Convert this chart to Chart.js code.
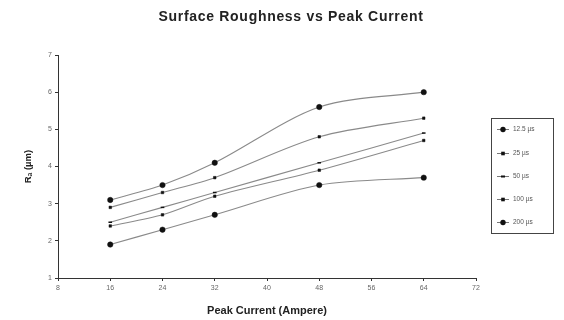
<!DOCTYPE html>
<html><head><meta charset="utf-8">
<script src="https://cdn.jsdelivr.net/npm/chart.js@4/dist/chart.umd.min.js"></script>
<style>html,body{margin:0;padding:0;background:#fff}#wrap{width:564px;height:320px;position:relative}</style>
</head><body><div id="wrap"><canvas id="c" width="564" height="320"></canvas></div>
<script>
const peakCurrent = [16, 24, 32, 48, 64];
const seriesLabels = ["12.5 µs", "25 µs", "50 µs", "100 µs", "200 µs"];
const ra_12_5 = [1.9, 2.3, 2.7, 3.5, 3.7];
const ra_25 = [2.4, 2.7, 3.2, 3.9, 4.7];
const ra_50 = [2.5, 2.9, 3.3, 4.1, 4.9];
const ra_100 = [2.9, 3.3, 3.7, 4.8, 5.3];
const ra_200 = [3.1, 3.5, 4.1, 5.6, 6.0];
const xTicks = [8, 16, 24, 32, 40, 48, 56, 64, 72];
const yTicks = [1, 2, 3, 4, 5, 6, 7];

const FONT = "'Liberation Sans', Arial, sans-serif";
const seriesValues = [ra_12_5, ra_25, ra_50, ra_100, ra_200];
const radii = [2.7, 1.8, 1.8, 1.8, 2.7];
const styles = ['circle', 'rect', 'line', 'rect', 'circle'];

const datasets = seriesValues.map((vals, i) => ({
  label: seriesLabels[i],
  data: peakCurrent.map((x, j) => ({x: x, y: vals[j]})),
  borderColor: '#8a8a8a',
  borderWidth: 1.1,
  backgroundColor: '#111',
  pointBorderColor: '#111',
  pointBackgroundColor: '#111',
  pointRadius: radii[i],
  pointStyle: styles[i],
  pointBorderWidth: styles[i] === 'line' ? 1.5 : 0.5,
  tension: 0.3,
  fill: false
}));

const overlay = {
  id: 'overlay',
  afterDraw(chart) {
    const ctx = chart.ctx;
    ctx.save();
    // title
    ctx.fillStyle = '#222';
    ctx.font = 'bold 14px ' + FONT;
    ctx.textAlign = 'center';
    ctx.textBaseline = 'middle';
    try { ctx.letterSpacing = '0.7px'; } catch (e) {}
    ctx.fillText('Surface Roughness vs Peak Current', 291, 17);
    try { ctx.letterSpacing = '0px'; } catch (e) {}
    // legend box
    const bx = 491, by = 118, bw = 62, bh = 115;
    ctx.strokeStyle = '#444';
    ctx.lineWidth = 1;
    ctx.strokeRect(bx + 0.5, by + 0.5, bw, bh);
    const ys = [129, 153, 176, 199, 222];
    chart.data.datasets.forEach((ds, i) => {
      const y = ys[i];
      ctx.strokeStyle = '#777';
      ctx.lineWidth = 1;
      ctx.beginPath();
      ctx.moveTo(497, y + 0.5);
      ctx.lineTo(509, y + 0.5);
      ctx.stroke();
      ctx.fillStyle = '#111';
      const r = radii[i];
      if (styles[i] === 'circle') {
        ctx.beginPath(); ctx.arc(503, y + 0.5, r, 0, Math.PI * 2); ctx.fill();
      } else if (styles[i] === 'rect') {
        ctx.fillRect(503 - r, y + 0.5 - r, r * 2, r * 2);
      } else {
        ctx.fillRect(501, y - 0.5, 4, 2);
      }
      ctx.fillStyle = '#555';
      ctx.font = '6.5px ' + FONT;
      ctx.textAlign = 'left';
      ctx.textBaseline = 'middle';
      ctx.fillText(ds.label, 513, y + 0.5);
    });
    ctx.restore();
  }
};

new Chart(document.getElementById('c'), {
  type: 'line',
  data: {datasets: datasets},
  options: {
    responsive: false,
    animation: false,
    events: [],
    layout: {padding: {top: 55, right: 88, left: 0, bottom: 0}},
    plugins: {legend: {display: false}, title: {display: false}, tooltip: {enabled: false}},
    scales: {
      x: {
        type: 'linear', min: 8, max: 72,
        afterBuildTicks(s) { s.ticks = xTicks.map(v => ({value: v})); },
        afterFit(s) { s.height = 42; },
        grid: {display: true, drawOnChartArea: false, drawTicks: true, tickLength: 3, color: '#333'},
        border: {display: true, color: '#333', width: 1},
        ticks: {color: '#666', font: {family: FONT, size: 7}, padding: 3, maxRotation: 0},
        title: {display: true, text: 'Peak Current (Ampere)', color: '#222', font: {family: FONT, size: 11, weight: 'bold'}, padding: {top: 2, bottom: 2}}
      },
      y: {
        type: 'linear', min: 1, max: 7,
        afterBuildTicks(s) { s.ticks = yTicks.map(v => ({value: v})); },
        afterFit(s) { s.width = 58; },
        grid: {display: true, drawOnChartArea: false, drawTicks: true, tickLength: 3, color: '#333'},
        border: {display: true, color: '#333', width: 1},
        ticks: {color: '#666', font: {family: FONT, size: 7}, padding: 3},
        title: {display: true, text: 'Rₐ (µm)', color: '#222', font: {family: FONT, size: 9.5, weight: 'bold'}, padding: {top: 23, bottom: 0}}
      }
    }
  },
  plugins: [overlay]
});
</script></body></html>
